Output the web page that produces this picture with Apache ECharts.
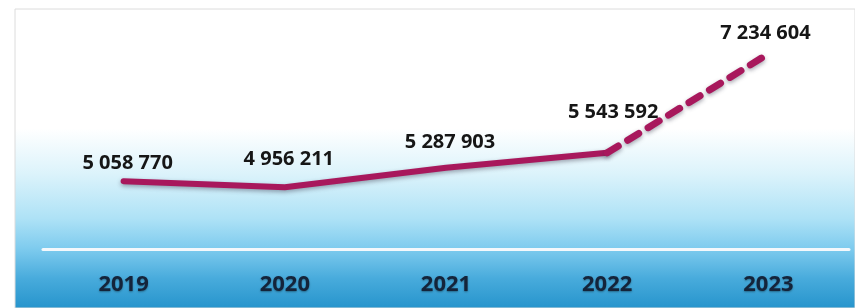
<!DOCTYPE html>
<html lang="en" style="height: 100%">
<head>
  <meta charset="utf-8">
</head>
<body style="height: 100%; margin: 0; background: #fff">
  <div id="container" style="width: 855px; height: 308px"></div>

  <script type="text/javascript" src="https://cdn.jsdelivr.net/npm/echarts@6/dist/echarts.min.js"></script>

  <script type="text/javascript">
    var years = ['2019', '2020', '2021', '2022', '2023'];
    var actual = [5058770, 4956211, 5287903, 5543592, null];
    var forecast = [null, null, null, 5543592, 7234604];

    // label offsets above each point (px)
    var labelOffsets = [[4, 7], [4, -3], [4, -1], [6, -16], [-3, 4]];

    function fmt(v) {
      return String(v).replace(/\B(?=(\d{3})+(?!\d))/g, ' ');
    }

    var dom = document.getElementById('container');
    var myChart = echarts.init(dom, null, { renderer: 'canvas' });

    var lineColor = '#a8185c';
    var labelStyle = {
      show: true,
      position: 'top',
      distance: 14,
      fontFamily: 'Open Sans',
      fontWeight: 'bold',
      fontSize: 20,
      color: '#161616',
      formatter: function (p) { return fmt(p.value); }
    };

    var solidData = actual.map(function (v, i) {
      if (v === null) return '-';
      return { value: v, label: Object.assign({}, labelStyle, { offset: labelOffsets[i] }) };
    });
    var dashData = forecast.map(function (v, i) {
      if (v === null) return '-';
      if (i === 4) return { value: v, label: Object.assign({}, labelStyle, { offset: labelOffsets[i] }) };
      return { value: v, label: { show: false } };
    });

    var option = {
      animation: false,
      graphic: [
        {
          type: 'rect',
          z: -10,
          silent: true,
          shape: { x: 15, y: 9, width: 840, height: 299 },
          style: {
            fill: new echarts.graphic.LinearGradient(0, 0, 0, 1, [
              { offset: 0, color: '#ffffff' },
              { offset: 0.4, color: '#ffffff' },
              { offset: 0.55, color: '#dcf3fb' },
              { offset: 0.7, color: '#aee2f6' },
              { offset: 0.8, color: '#7ecbee' },
              { offset: 0.9, color: '#48abdc' },
              { offset: 1, color: '#2694cc' }
            ]),
            stroke: '#dcdcdc',
            lineWidth: 1
          }
        }
      ],
      grid: { left: 43, right: 6, top: 9, bottom: 59 },
      xAxis: {
        type: 'category',
        data: years,
        boundaryGap: true,
        axisLine: { show: true, lineStyle: { color: '#f4f8fc', width: 3 } },
        axisTick: { show: false },
        axisLabel: {
          margin: 25,
          fontFamily: 'Open Sans',
          fontWeight: 'bold',
          fontSize: 22,
          color: '#14243a',
          textShadowColor: 'rgba(0,0,0,0.35)',
          textShadowBlur: 2,
          textShadowOffsetY: 1
        }
      },
      yAxis: {
        type: 'value',
        min: 3900000,
        max: 8000000,
        show: false,
        splitLine: { show: false }
      },
      series: [
        {
          type: 'line',
          z: 2,
          data: solidData,
          symbol: 'circle',
          symbolSize: 1,
          showSymbol: true,
          itemStyle: { color: 'rgba(0,0,0,0)' },
          lineStyle: {
            color: lineColor,
            width: 6,
            cap: 'round',
            shadowColor: 'rgba(60,60,80,0.45)',
            shadowBlur: 4,
            shadowOffsetY: 2
          }
        },
        {
          type: 'line',
          z: 5,
          data: dashData,
          symbol: 'circle',
          symbolSize: 1,
          showSymbol: true,
          itemStyle: { color: 'rgba(0,0,0,0)' },
          lineStyle: {
            color: lineColor,
            width: 7,
            type: [13, 11],
            cap: 'round',
            shadowColor: 'rgba(60,60,80,0.45)',
            shadowBlur: 4,
            shadowOffsetY: 2
          }
        }
      ]
    };

    myChart.setOption(option);
    window.addEventListener('resize', myChart.resize);
  </script>
</body>
</html>
